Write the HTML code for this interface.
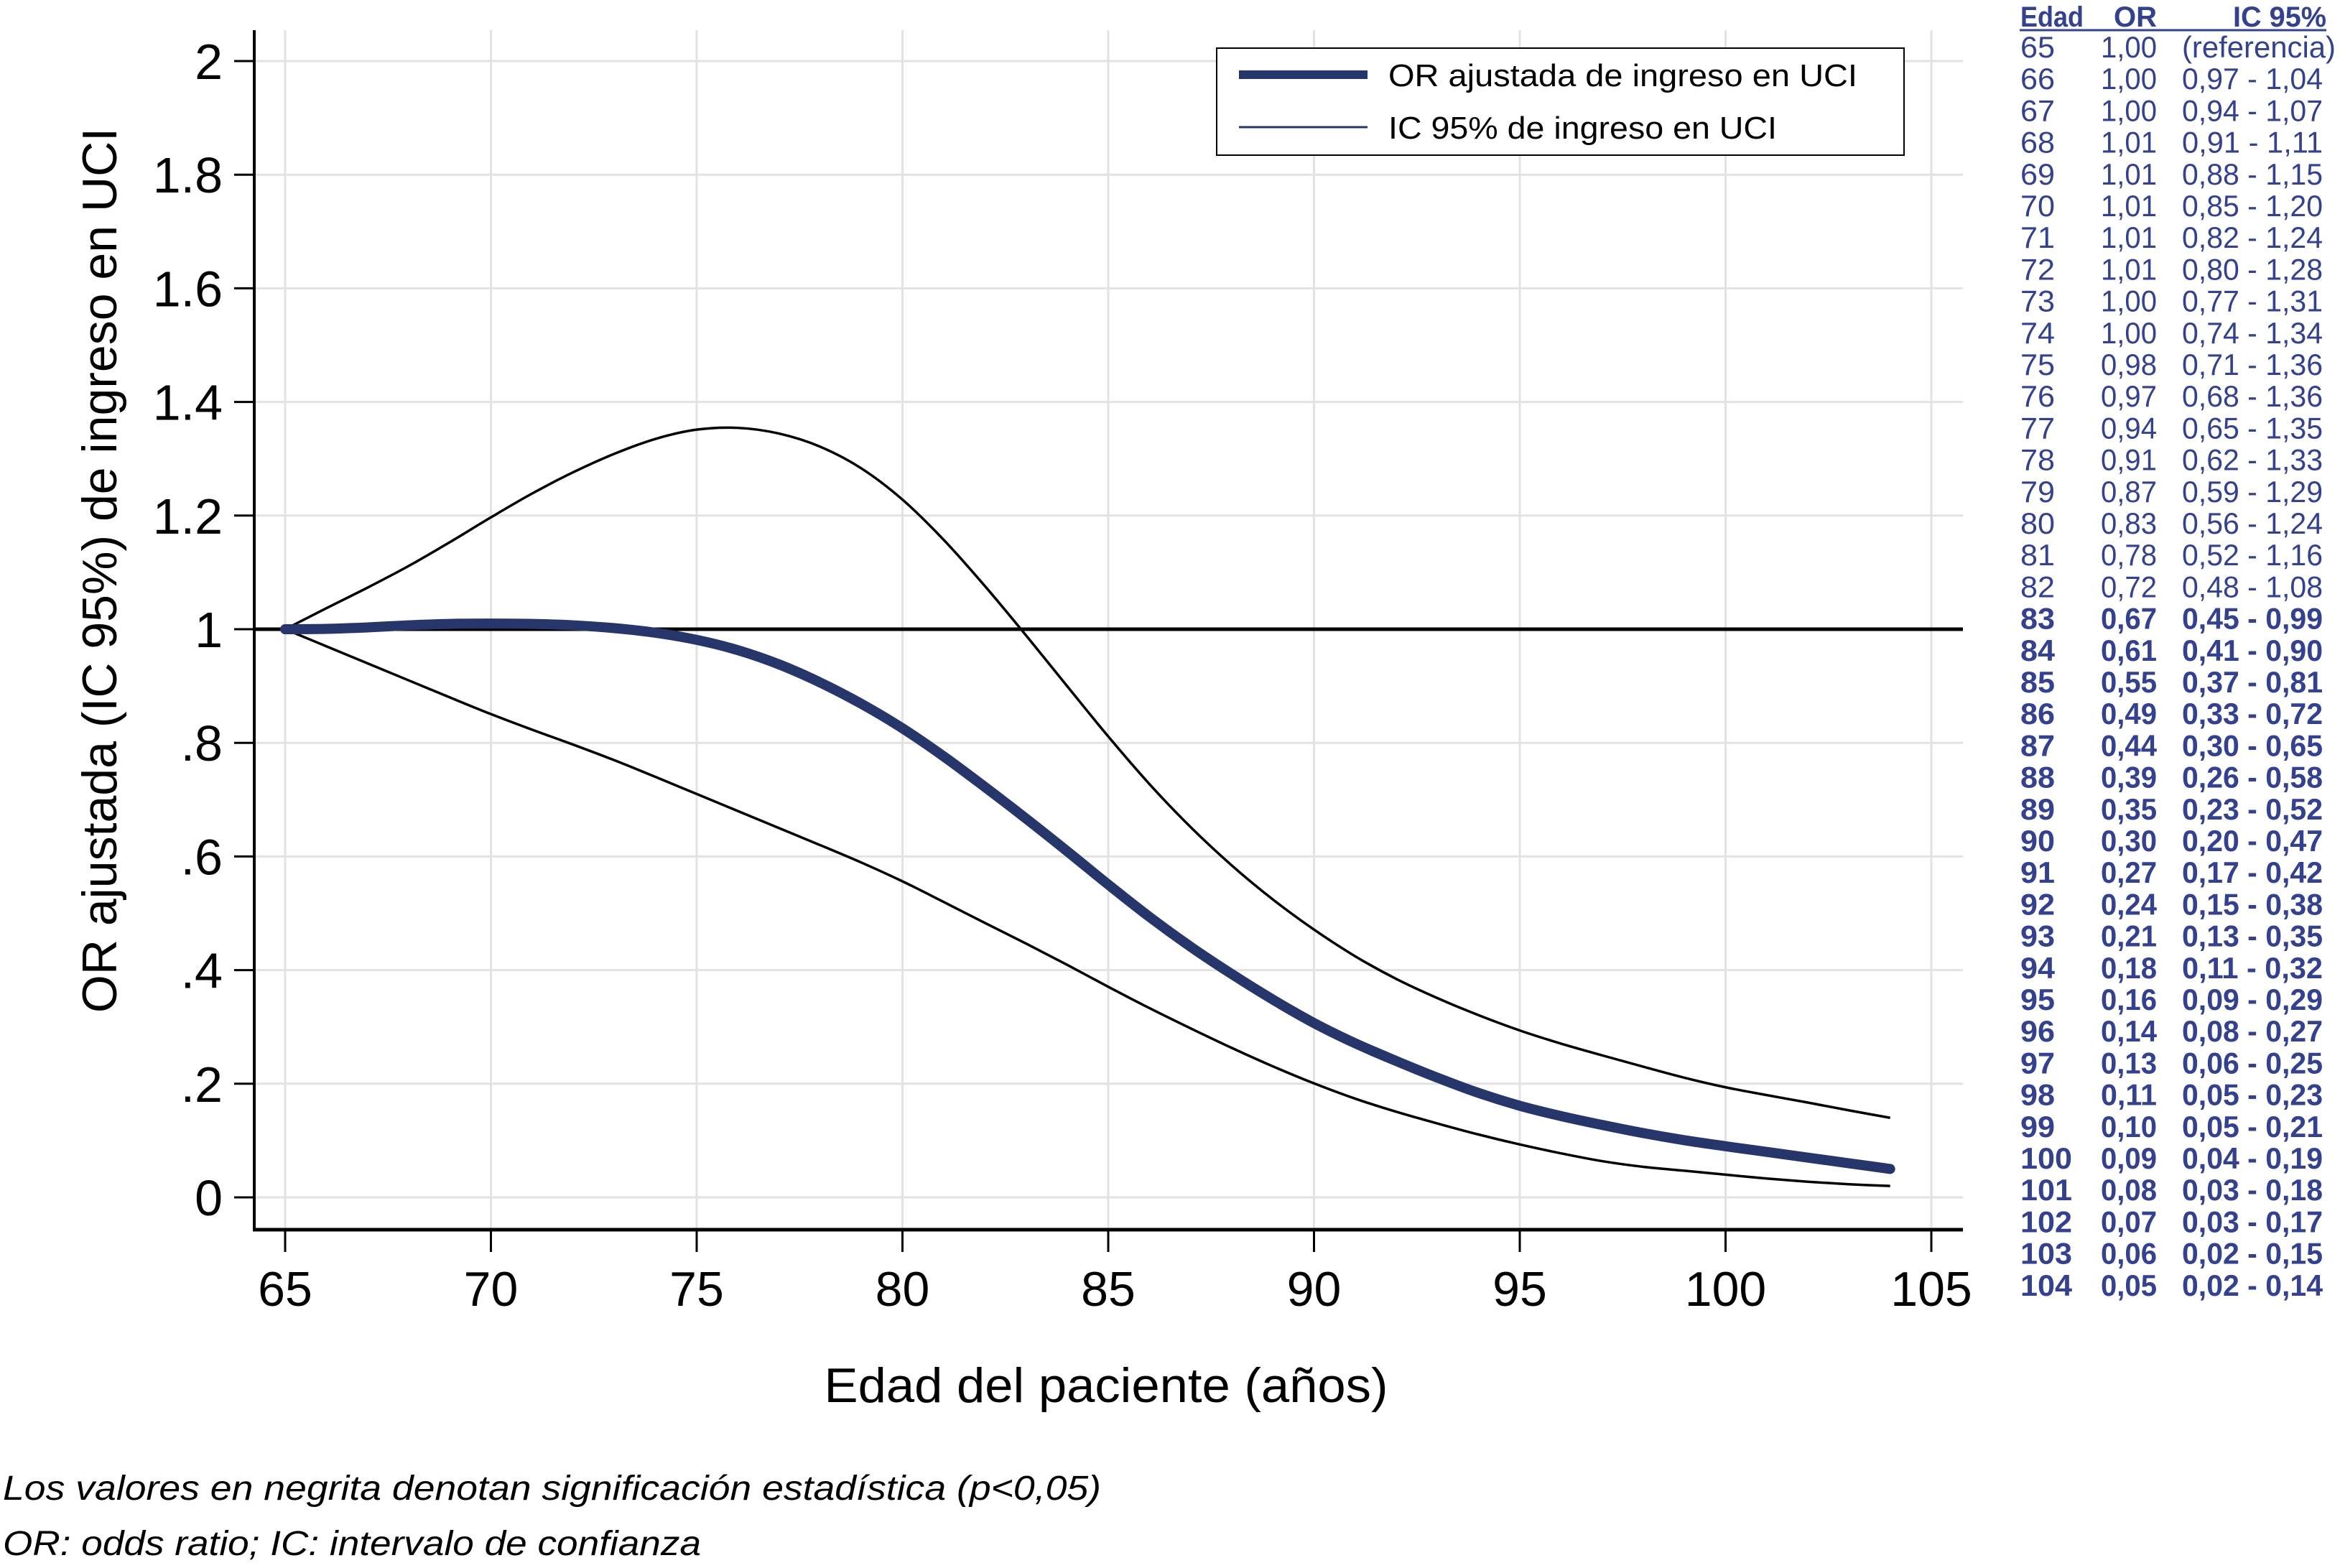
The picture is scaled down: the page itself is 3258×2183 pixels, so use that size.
<!DOCTYPE html>
<html><head><meta charset="utf-8"><style>
html,body{margin:0;padding:0;background:#fff;}
svg{display:block;}
text{font-family:"Liberation Sans",sans-serif;}
</style></head><body>
<svg id="chart" width="3258" height="2183" viewBox="0 0 3258 2183" xmlns="http://www.w3.org/2000/svg">
<rect width="3258" height="2183" fill="#fff"/>
<g id="grid"></g>
<g id="axes"></g>
<g id="series"></g>
<text transform="translate(162,794) rotate(-90)" text-anchor="middle" font-size="68" fill="#000">OR ajustada (IC 95%) de ingreso en UCI</text>
<text x="1540" y="1952" text-anchor="middle" font-size="68" fill="#000" textLength="785" lengthAdjust="spacingAndGlyphs">Edad del paciente (años)</text>
<g>
<rect x="1694" y="67" width="957" height="149" fill="#fff" stroke="#000" stroke-width="2"/>
<line x1="1725" y1="104" x2="1904" y2="104" stroke="#26366a" stroke-width="12"/>
<text x="1933" y="120" font-size="44" textLength="653" lengthAdjust="spacingAndGlyphs">OR ajustada de ingreso en UCI</text>
<line x1="1725" y1="177" x2="1904" y2="177" stroke="#26366a" stroke-width="3"/>
<text x="1933" y="193" font-size="44" textLength="541" lengthAdjust="spacingAndGlyphs">IC 95% de ingreso en UCI</text>
</g>
<g id="table" fill="#33418f"></g>
<text x="4" y="2088" font-size="48" font-style="italic" textLength="1529" lengthAdjust="spacingAndGlyphs">Los valores en negrita denotan significación estadística (p&lt;0,05)</text>
<text x="4" y="2165" font-size="48" font-style="italic" textLength="972" lengthAdjust="spacingAndGlyphs">OR: odds ratio; IC: intervalo de confianza</text>
</svg>
<script>
const ages = [65,66,67,68,69,70,71,72,73,74,75,76,77,78,79,80,81,82,83,84,85,86,87,88,89,90,91,92,93,94,95,96,97,98,99,100,101,102,103,104];
const orValues = [1.00,1.00,1.00,1.01,1.01,1.01,1.01,1.01,1.00,1.00,0.98,0.97,0.94,0.91,0.87,0.83,0.78,0.72,0.67,0.61,0.55,0.49,0.44,0.39,0.35,0.30,0.27,0.24,0.21,0.18,0.16,0.14,0.13,0.11,0.10,0.09,0.08,0.07,0.06,0.05];
const ciLower = [1.00,0.97,0.94,0.91,0.88,0.85,0.82,0.80,0.77,0.74,0.71,0.68,0.65,0.62,0.59,0.56,0.52,0.48,0.45,0.41,0.37,0.33,0.30,0.26,0.23,0.20,0.17,0.15,0.13,0.11,0.09,0.08,0.06,0.05,0.05,0.04,0.03,0.03,0.02,0.02];
const ciUpper = [1.00,1.04,1.07,1.11,1.15,1.20,1.24,1.28,1.31,1.34,1.36,1.36,1.35,1.33,1.29,1.24,1.16,1.08,0.99,0.90,0.81,0.72,0.65,0.58,0.52,0.47,0.42,0.38,0.35,0.32,0.29,0.27,0.25,0.23,0.21,0.19,0.18,0.17,0.15,0.14];
const xTicks = [65,70,75,80,85,90,95,100,105];
const yTicks = [0,0.2,0.4,0.6,0.8,1,1.2,1.4,1.6,1.8,2];
const yTickLabels = ["0",".2",".4",".6",".8","1","1.2","1.4","1.6","1.8","2"];
const refValue = 1;

const NS = "http://www.w3.org/2000/svg";
const X0 = 354, X1 = 2733, YT = 42, YB = 1712;
function xs(v){ return 397 + (v-65)*57.3; }
function ys(v){ return 1667 - v*791; }
function mk(tag, attrs, parent){
  const e = document.createElementNS(NS, tag);
  for (const k in attrs) e.setAttribute(k, attrs[k]);
  parent.appendChild(e); return e;
}
const grid = document.getElementById('grid');
const axes = document.getElementById('axes');
const series = document.getElementById('series');

xTicks.forEach(t => {
  const g = mk('line',{x1:xs(t),x2:xs(t),y1:YT,y2:YB,stroke:'#e2e2e2','stroke-width':3},grid);
  
  
  const tk = mk('line',{x1:xs(t),x2:xs(t),y1:YB,y2:1743,stroke:'#000','stroke-width':3},axes);
  
  
  const lb = mk('text',{x:xs(t),y:1818,'text-anchor':'middle','font-size':68},axes);
  lb.textContent = t;
  
  
});
yTicks.forEach((t,i) => {
  const g = mk('line',{x1:X0,x2:X1,y1:ys(t),y2:ys(t),stroke:'#e2e2e2','stroke-width':3},grid);
  
  
  const tk = mk('line',{x1:326,x2:X0,y1:ys(t),y2:ys(t),stroke:'#000','stroke-width':3},axes);
  
  
  const lb = mk('text',{x:310,y:ys(t)+25,'text-anchor':'end','font-size':70},axes);
  lb.textContent = yTickLabels[i];
  
  
});
const ya = mk('line',{x1:X0,x2:X0,y1:YT,y2:YB+2,stroke:'#000','stroke-width':4},axes);


const xa = mk('line',{x1:X0-2,x2:X1,y1:YB,y2:YB,stroke:'#000','stroke-width':5},axes);



// visual smoothing of the rounded table values (rendering only)
function smoothVals(vals, passes){
  let v = vals.slice();
  for (let p=0;p<passes;p++){
    const n = v.slice();
    for (let i=1;i<v.length-1;i++) n[i] = (v[i-1]+2*v[i]+v[i+1])/4;
    v = n;
  }
  return v;
}
function smoothPath(vals){
  const sv = smoothVals(vals, 2);
  const p = ages.map((a,i)=>[xs(a), ys(sv[i])]);
  let d = 'M'+p[0][0]+','+p[0][1];
  for (let i=0;i<p.length-1;i++){
    const p0=p[Math.max(0,i-1)], p1=p[i], p2=p[i+1], p3=p[Math.min(p.length-1,i+2)];
    const c1=[p1[0]+(p2[0]-p0[0])/6, p1[1]+(p2[1]-p0[1])/6];
    const c2=[p2[0]-(p3[0]-p1[0])/6, p2[1]-(p3[1]-p1[1])/6];
    d += ' C'+c1[0]+','+c1[1]+' '+c2[0]+','+c2[1]+' '+p2[0]+','+p2[1];
  }
  return d;
}
const lo = mk('path',{d:smoothPath(ciLower),fill:'none',stroke:'#000','stroke-width':3.5},series);


const up = mk('path',{d:smoothPath(ciUpper),fill:'none',stroke:'#000','stroke-width':3.5},series);


const ref = mk('line',{x1:X0,x2:X1,y1:ys(refValue),y2:ys(refValue),stroke:'#000','stroke-width':5},series);


const orl = mk('path',{d:smoothPath(orValues),fill:'none',stroke:'#26366a','stroke-width':14,'stroke-linecap':'round'},series);



// table
const tbl = document.getElementById('table');
function fmt(v){ return v.toFixed(2).replace('.',','); }
const hdr = [['Edad',2813,'start',88],['OR',3003,'end',60],['IC 95%',3239,'end',130]];
hdr.forEach(h=>{
  const t = mk('text',{x:h[1],y:37,'text-anchor':h[2],'font-size':40,'font-weight':'bold',textLength:h[3],lengthAdjust:'spacingAndGlyphs'},tbl);
  t.textContent = h[0];
  
  
});
const ul = mk('line',{x1:2812,x2:3239,y1:42,y2:42,stroke:'#33418f','stroke-width':3},tbl);


ages.forEach((a,i)=>{
  const y = 64 + i*44.2 + 16;
  const bold = ciUpper[i] < 1 ? 'bold' : 'normal';
  const t1 = mk('text',{x:2813,y:y,'font-size':42,'font-weight':bold,textLength:a>=100?72:48,lengthAdjust:'spacingAndGlyphs'},tbl);
  t1.textContent = a;
  
  
  const t2 = mk('text',{x:3003,y:y,'text-anchor':'end','font-size':42,'font-weight':bold,textLength:78,lengthAdjust:'spacingAndGlyphs'},tbl);
  t2.textContent = fmt(orValues[i]);
  
  
  const isRef = i===0;
  const t3 = mk('text',{x:3038,y:y,'font-size':42,'font-weight':bold,textLength:isRef?214:196,lengthAdjust:'spacingAndGlyphs'},tbl);
  t3.textContent = isRef ? '(referencia)' : fmt(ciLower[i])+' - '+fmt(ciUpper[i]);
  
  
});
</script>
</body></html>
